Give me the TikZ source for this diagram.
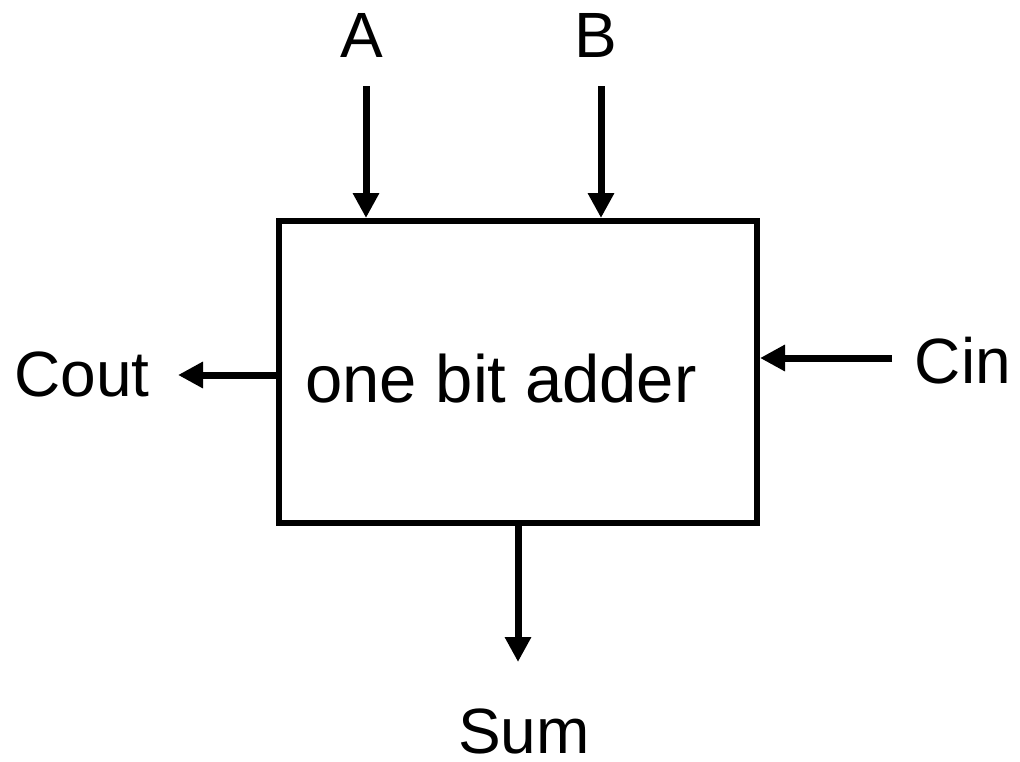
\documentclass[tikz,border=0pt]{standalone}
\usepackage{fontspec}
\setmainfont{Liberation Sans}
\usetikzlibrary{arrows.meta}
\begin{document}
\begin{tikzpicture}[x=1pt,y=-1pt,
  lbl/.style={anchor=base,inner sep=0pt,font=\fontsize{64}{70}\selectfont},
  blockbox/.style={draw,line width=6pt,rectangle,minimum width=478pt,minimum height=302pt,inner sep=0pt},
  sig/.style={line width=7pt,-{Triangle[length=25pt,width=25pt]}}]
  \useasboundingbox (0,0) rectangle (1020,761);
  % the adder block and its caption
  \node[blockbox] (adder) at (518,372) {};
  \node[lbl,font=\fontsize{67}{72}\selectfont] (title) at (501,402) {one bit adder};
  % port labels
  \node[lbl] (A) at (362,57) {A};
  \node[lbl] (B) at (596,57) {B};
  \node[lbl] (Cout) at (82,396) {Cout};
  \node[lbl] (Cin) at (963,383) {Cin};
  \node[lbl] (Sum) at (524,753) {Sum};
  % free ends of the signal lines
  \coordinate (a0) at (366,86);
  \coordinate (b0) at (601,86);
  \coordinate (cin0) at (892,358);
  \coordinate (cout1) at (178,375);
  \coordinate (sum1) at (518,662);
  % signals
  \draw[sig] (a0) -- (a0 |- adder.north);
  \draw[sig] (b0) -- (b0 |- adder.north);
  \draw[sig] (cin0) -- (cin0 -| adder.east);
  \draw[sig] (cout1 -| adder.west) -- (cout1);
  \draw[sig] (sum1 |- adder.south) -- (sum1);
\end{tikzpicture}
\end{document}
